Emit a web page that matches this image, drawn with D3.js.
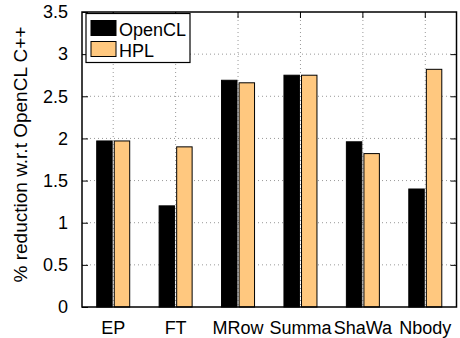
<!DOCTYPE html>
<html><head><meta charset="utf-8">
<script src="https://cdn.jsdelivr.net/npm/d3@7"></script>
<style>body{margin:0;background:#fff}svg{display:block}text{font-family:"Liberation Sans",Arial,Helvetica,sans-serif}</style>
</head><body><svg id="c" width="460" height="338"></svg>
<script>
const categories = ["EP","FT","MRow","Summa","ShaWa","Nbody"];
const seriesNames = ["OpenCL","HPL"];
const openclValues = [1.97,1.20,2.69,2.75,1.96,1.40];
const hplValues = [1.97,1.90,2.66,2.75,1.82,2.82];
const yTicks = [0,0.5,1,1.5,2,2.5,3,3.5];
const yTickLabels = ["0","0.5","1","1.5","2","2.5","3","3.5"];
const colors = ["#000000","#ffc87f"];

const svg = d3.select("#c");
const L=82, R=456.5, T=12, B=307;
const FS = "18px";
const x = d3.scaleBand().domain(categories).range([L,R]).padding(0);
const y = d3.scaleLinear().domain([0,3.5]).range([B,T]);
const x1 = d3.scaleBand().domain(seriesNames).range([-16.5,16.5]).paddingInner(0.12);

// grid
const g = svg.append("g");
g.selectAll(".hg").data(yTicks.slice(1,-1)).join("line")
  .attr("x1",L).attr("x2",R).attr("y1",d=>y(d)).attr("y2",d=>y(d))
  .attr("stroke","#999").attr("stroke-width",1).attr("stroke-dasharray","1,3");
g.selectAll(".vg").data(categories).join("line")
  .attr("x1",d=>x(d)+x.bandwidth()/2).attr("x2",d=>x(d)+x.bandwidth()/2)
  .attr("y1",T).attr("y2",B)
  .attr("stroke","#999").attr("stroke-width",1).attr("stroke-dasharray","1,3");

// bars
const data = categories.map((c,i)=>({c, vals:[openclValues[i],hplValues[i]]}));
data.forEach(d=>{
  d.vals.forEach((v,j)=>{
    const cx = x(d.c)+x.bandwidth()/2;
    svg.append("rect")
      .attr("x",cx+x1(seriesNames[j]))
      .attr("y",y(v))
      .attr("width",x1.bandwidth())
      .attr("height",y(0)-y(v))
      .attr("fill",colors[j])
      .attr("stroke","#000").attr("stroke-width",1);
  });
});

// axes
const yAxisL = d3.axisLeft(y).tickValues(yTicks).tickFormat((d,i)=>yTickLabels[i]).tickSizeInner(-6).tickSizeOuter(0).tickPadding(14);
const ga = svg.append("g").attr("transform",`translate(${L},0)`).call(yAxisL);
ga.select(".domain").remove();
ga.selectAll("line").attr("stroke","#000");
ga.selectAll("text").attr("font-size",FS).attr("fill","#000").attr("font-family","Liberation Sans, Arial, sans-serif");

const yAxisR = d3.axisRight(y).tickValues(yTicks.slice(1,-1)).tickSize(-6).tickFormat("");
const gr = svg.append("g").attr("transform",`translate(${R},0)`).call(yAxisR);
gr.select(".domain").remove();
gr.selectAll("line").attr("stroke","#000");

const xAxis = d3.axisBottom(x).tickSize(0).tickPadding(14);
const gx = svg.append("g").attr("transform",`translate(0,${B})`).call(xAxis);
gx.select(".domain").remove();
gx.selectAll("text").attr("font-size",FS).attr("fill","#000").attr("font-family","Liberation Sans, Arial, sans-serif");

const xAxisT = d3.axisBottom(x).tickSize(6).tickFormat("");
const gt = svg.append("g").attr("transform",`translate(0,${T})`).call(xAxisT);
gt.select(".domain").remove();
gt.selectAll("line").attr("stroke","#000");

// frame
svg.append("rect").attr("x",L).attr("y",T).attr("width",R-L).attr("height",B-T)
  .attr("fill","none").attr("stroke","#000").attr("stroke-width",1.5);

// y title
svg.append("text").attr("transform",`translate(27,154.5) rotate(-90)`)
  .attr("text-anchor","middle").attr("font-size","19px").attr("fill","#000")
  .text("% reduction w.r.t OpenCL C++");

// legend
const lg = svg.append("g");
lg.append("rect").attr("x",86).attr("y",13.5).attr("width",104).attr("height",49)
  .attr("fill","#fff").attr("stroke","#000").attr("stroke-width",1.2);
seriesNames.forEach((s,i)=>{
  lg.append("rect").attr("x",91).attr("y",20.5+i*21).attr("width",25).attr("height",15)
    .attr("fill",colors[i]).attr("stroke","#000").attr("stroke-width",1);
  lg.append("text").attr("x",119).attr("y",35.5+i*21).attr("font-size",FS).attr("fill","#000").text(s);
});
</script></body></html>
